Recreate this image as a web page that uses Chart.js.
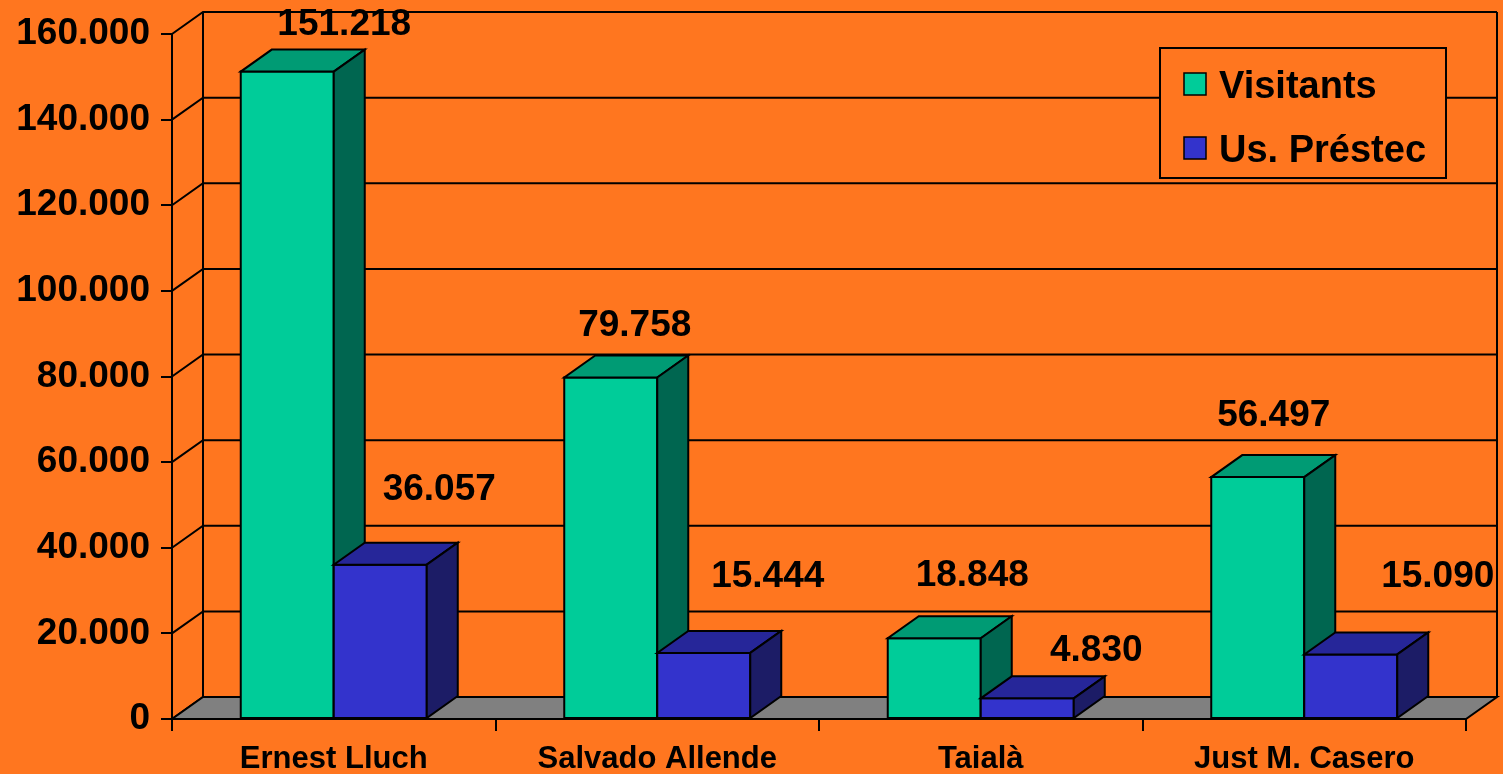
<!DOCTYPE html>
<html>
<head>
<meta charset="utf-8">
<script src="https://cdn.jsdelivr.net/npm/chart.js@4/dist/chart.umd.min.js"></script>
<style>
  html, body { margin: 0; padding: 0; background: #FF761F; }
  #wrap { width: 1503px; height: 774px; }
</style>
</head>
<body>
<div id="wrap"><canvas id="c" width="1503" height="774"></canvas></div>
<script>
// ---- data ----
const CATEGORIES = ['Ernest Lluch', 'Salvado Allende', 'Taialà', 'Just M. Casero'];
const SERIES_NAMES = ['Visitants', 'Us. Préstec'];
const VISITANTS = [151218, 79758, 18848, 56497];
const PRESTEC = [36057, 15444, 4830, 15090];
const Y_MIN = 0;
const Y_MAX = 160000;
const Y_STEP = 20000;

// ---- style ----
const BG = '#FF761F';
const FONT = "'Liberation Sans', Arial, Helvetica, sans-serif";
const DX = 31, DY = 22; // 3D depth
const FACE = [
  { front: '#00CC99', top: '#009B74', side: '#006650' },
  { front: '#3333CC', top: '#262699', side: '#1C1C66' }
];
// label placement relative to front-top centre of each bar [series][category]
const LABEL_NUDGE = [
  [[57, -50], [24, -55], [38, -66], [16, -64]],
  [[59, -78], [64, -79], [69, -51], [87, -81]]
];

function fmt(v) {
  return String(Math.round(v)).replace(/\B(?=(\d{3})+(?!\d))/g, '.');
}

const bg3d = {
  id: 'bg3d',
  beforeDraw(chart) {
    const ctx = chart.ctx;
    ctx.save();
    ctx.fillStyle = BG;
    ctx.fillRect(0, 0, chart.width, chart.height);
    ctx.restore();
  },
  beforeDatasetsDraw(chart) {
    const ctx = chart.ctx;
    const a = chart.chartArea;
    const ys = chart.scales.y;
    const L = a.left, R = a.right, T = a.top, B = a.bottom;
    ctx.save();
    ctx.strokeStyle = '#000';
    ctx.lineWidth = 2;
    ctx.lineJoin = 'miter';
    // walls + gridlines
    for (let v = Y_MIN; v <= Y_MAX; v += Y_STEP) {
      const y = ys.getPixelForValue(v);
      ctx.beginPath();
      ctx.moveTo(L, y);
      ctx.lineTo(L + DX, y - DY);
      ctx.lineTo(R + DX, y - DY);
      ctx.stroke();
    }
    ctx.beginPath();
    ctx.moveTo(L + DX, T - DY);
    ctx.lineTo(L + DX, B - DY);
    ctx.moveTo(R + DX, T - DY);
    ctx.lineTo(R + DX, B - DY);
    ctx.stroke();
    // floor
    ctx.beginPath();
    ctx.moveTo(L, B);
    ctx.lineTo(R, B);
    ctx.lineTo(R + DX, B - DY);
    ctx.lineTo(L + DX, B - DY);
    ctx.closePath();
    ctx.fillStyle = '#808080';
    ctx.fill();
    ctx.stroke();

    // bars
    const n = CATEGORIES.length;
    const metas = chart.data.datasets.map((d, i) => chart.getDatasetMeta(i));
    for (let j = 0; j < n; j++) {
      metas.forEach((meta, i) => {
        const el = meta.data[j];
        const w = el.width;
        const x0 = el.x - w / 2, x1 = el.x + w / 2;
        const yt = el.y, yb = el.base;
        const f = FACE[i];
        // front
        ctx.fillStyle = f.front;
        ctx.beginPath();
        ctx.rect(x0, yt, w, yb - yt);
        ctx.fill();
        ctx.stroke();
        // top
        ctx.fillStyle = f.top;
        ctx.beginPath();
        ctx.moveTo(x0, yt);
        ctx.lineTo(x1, yt);
        ctx.lineTo(x1 + DX, yt - DY);
        ctx.lineTo(x0 + DX, yt - DY);
        ctx.closePath();
        ctx.fill();
        ctx.stroke();
        // side
        ctx.fillStyle = f.side;
        ctx.beginPath();
        ctx.moveTo(x1, yt);
        ctx.lineTo(x1 + DX, yt - DY);
        ctx.lineTo(x1 + DX, yb - DY);
        ctx.lineTo(x1, yb);
        ctx.closePath();
        ctx.fill();
        ctx.stroke();
      });
    }
    // value labels
    ctx.fillStyle = '#000';
    ctx.font = 'bold 37px ' + FONT;
    ctx.textAlign = 'center';
    ctx.textBaseline = 'alphabetic';
    metas.forEach((meta, i) => {
      const vals = chart.data.datasets[i].data;
      meta.data.forEach((el, j) => {
        const nd = LABEL_NUDGE[i][j];
        const cx = el.x + nd[0];
        const cy = el.y + nd[1];
        ctx.fillText(fmt(vals[j]), cx, cy + 0.358 * 37);
      });
    });
    ctx.restore();
    return false;
  },
  afterDraw(chart) {
    const ctx = chart.ctx;
    ctx.save();
    // legend
    const lx = 1160, ly = 48, lw = 286, lh = 130;
    ctx.fillStyle = BG;
    ctx.fillRect(lx, ly, lw, lh);
    ctx.strokeStyle = '#000';
    ctx.lineWidth = 2;
    ctx.strokeRect(lx, ly, lw, lh);
    const rows = [84, 148];
    ctx.font = 'bold 38px ' + FONT;
    ctx.textAlign = 'left';
    ctx.textBaseline = 'alphabetic';
    SERIES_NAMES.forEach((name, i) => {
      const cy = rows[i];
      ctx.fillStyle = FACE[i].front;
      ctx.fillRect(1184, cy - 11, 22, 22);
      ctx.lineWidth = 1.5;
      ctx.strokeRect(1184, cy - 11, 22, 22);
      ctx.fillStyle = '#000';
      ctx.fillText(name, 1219, cy + 0.358 * 38);
    });
    ctx.restore();
  }
};

new Chart(document.getElementById('c'), {
  type: 'bar',
  data: {
    labels: CATEGORIES,
    datasets: [
      { label: SERIES_NAMES[0], data: VISITANTS, backgroundColor: FACE[0].front },
      { label: SERIES_NAMES[1], data: PRESTEC, backgroundColor: FACE[1].front }
    ]
  },
  plugins: [bg3d],
  options: {
    responsive: false,
    animation: false,
    devicePixelRatio: 1,
    layout: { padding: { left: 0, right: 37, top: 34, bottom: 0 } },
    plugins: { legend: { display: false }, tooltip: { enabled: false } },
    datasets: { bar: { categoryPercentage: 0.575, barPercentage: 1 } },
    scales: {
      x: {
        afterFit(s) { s.height = 55; },
        grid: { offset: true, drawOnChartArea: false, drawTicks: true, tickLength: 12, color: '#000', lineWidth: 2 },
        border: { display: true, color: '#000', width: 2 },
        ticks: { color: '#000', padding: 10, font: { family: FONT, size: 31, weight: 'bold' }, maxRotation: 0, autoSkip: false }
      },
      y: {
        min: Y_MIN, max: Y_MAX,
        afterFit(s) { s.width = 172; },
        grid: { drawOnChartArea: false, drawTicks: true, tickLength: 11, color: '#000', lineWidth: 2 },
        border: { display: true, color: '#000', width: 2 },
        ticks: { stepSize: Y_STEP, color: '#000', padding: 11, font: { family: FONT, size: 37, weight: 'bold' }, callback: (v) => fmt(v) }
      }
    }
  }
});
</script>
</body>
</html>
